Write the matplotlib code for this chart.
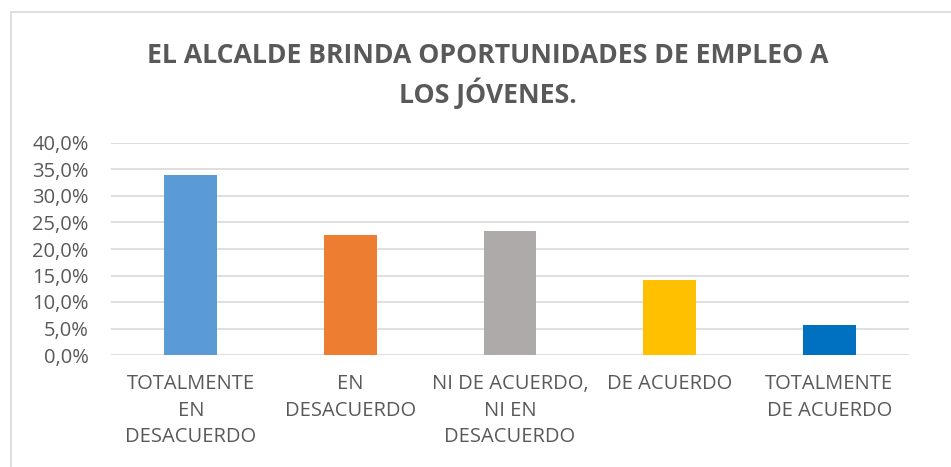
import matplotlib
matplotlib.use('Agg')
import matplotlib.pyplot as plt
from matplotlib.ticker import FuncFormatter
from matplotlib.patches import Rectangle

categories = ['TOTALMENTE\nEN\nDESACUERDO', 'EN\nDESACUERDO', 'NI DE ACUERDO,\nNI EN\nDESACUERDO',
              'DE ACUERDO', 'TOTALMENTE\nDE ACUERDO']
values = [34.0, 22.6, 23.4, 14.2, 5.7]
colors = ['#5B9BD5', '#ED7D31', '#AEAAAA', '#FFC000', '#0070C0']
title = 'EL ALCALDE BRINDA OPORTUNIDADES DE EMPLEO A\nLOS JÓVENES.'

plt.rcParams['font.family'] = ['Open Sans', 'DejaVu Sans']

fig = plt.figure(figsize=(9.51, 4.67), dpi=100)
ax = fig.add_axes([111 / 951, 1 - 355 / 467, 798 / 951, 212 / 467])

ax.bar(range(len(values)), values, width=0.33, color=colors, zorder=3)
ax.set_xlim(-0.5, len(values) - 0.5)
ax.set_ylim(0, 40)
ax.set_yticks(range(0, 41, 5))
ax.yaxis.set_major_formatter(FuncFormatter(lambda v, p: '{:.1f}%'.format(v).replace('.', ',')))
ax.set_xticks(range(len(values)))
ax.set_xticklabels(categories, fontsize=14.5, color='#595959', linespacing=1.42)
ax.tick_params(axis='y', labelsize=14.5, labelcolor='#595959', length=0, pad=16)
ax.tick_params(axis='x', length=0, pad=14)
ax.grid(axis='y', color='#D9D9D9', linewidth=1.2, zorder=0)
for s in ax.spines.values():
    s.set_visible(False)

fig.text(488 / 951, 1 - 76 / 467, title, ha='center', va='center', fontsize=19.2,
         fontweight='bold', color='#595959', linespacing=1.34)

fig.patches.append(Rectangle((10.5 / 951, -0.1), 1.0, 1 - 11.5 / 467 + 0.1,
                             transform=fig.transFigure, fill=False,
                             edgecolor='#D9D9D9', linewidth=1.2))

fig.savefig('out.png', dpi=100)
